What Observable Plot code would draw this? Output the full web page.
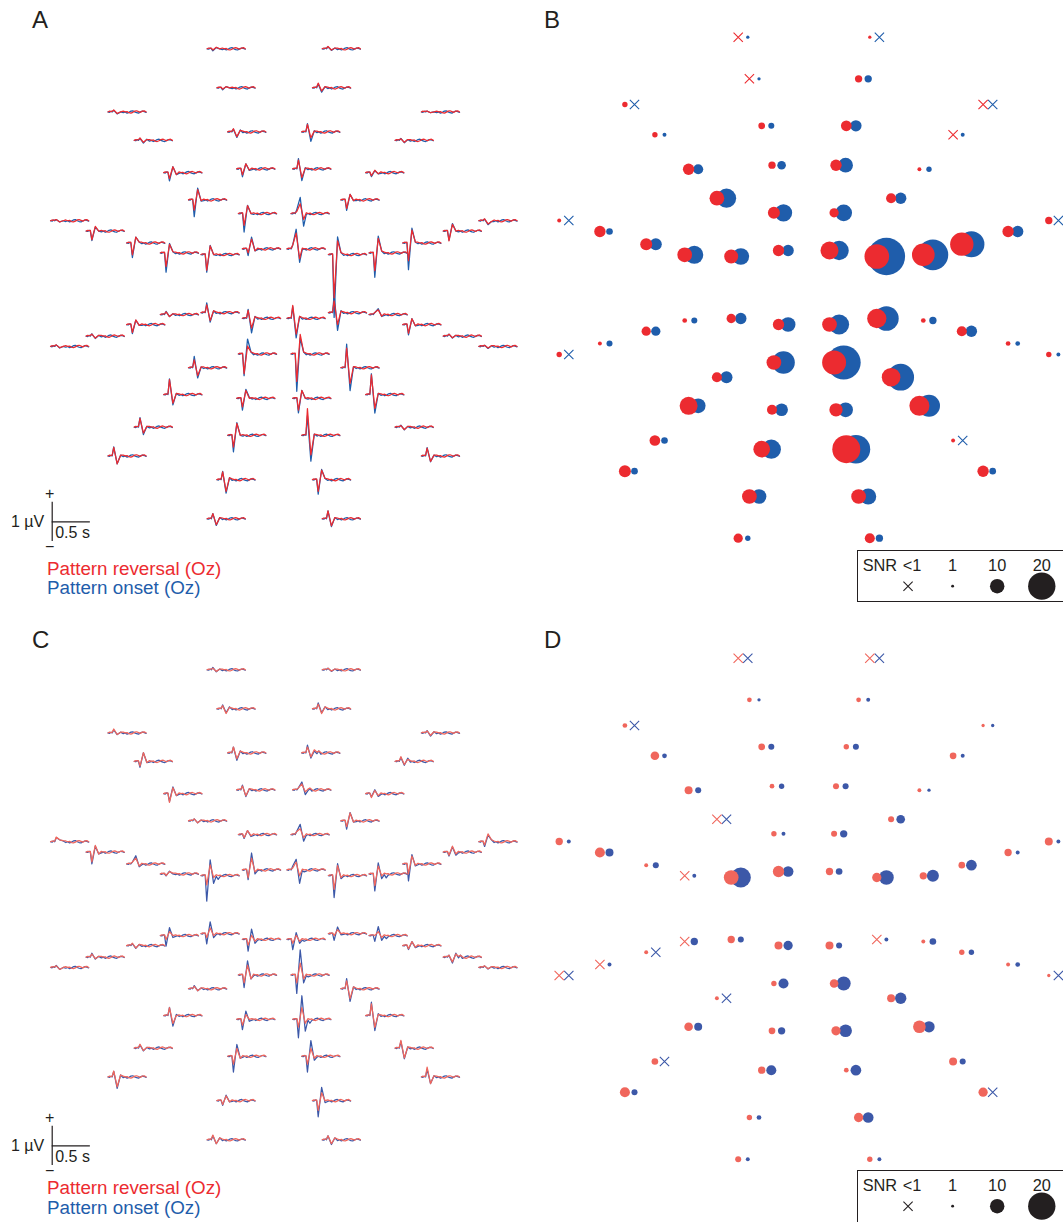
<!DOCTYPE html>
<html><head><meta charset="utf-8">
<script src="https://cdn.jsdelivr.net/npm/d3@7"></script>
<script src="https://cdn.jsdelivr.net/npm/@observablehq/plot@0.6"></script>
<style>
html,body{margin:0;padding:0;background:#fff;}
body{width:1063px;height:1222px;position:relative;overflow:hidden;font-family:"Liberation Sans",Arial,Helvetica,sans-serif;color:#231f20;}
.abs{position:absolute;}
.lbl{position:absolute;font-size:24px;line-height:1;}
.leg{position:absolute;font-size:18.8px;line-height:1;white-space:nowrap;}
.snrbox{position:absolute;border:1.3px solid #231f20;width:215px;height:52px;box-sizing:border-box;overflow:hidden;}
</style>
</head><body>
<div id="A" class="abs" style="left:0;top:0"></div>
<div id="B" class="abs" style="left:530px;top:0"></div>
<div id="C" class="abs" style="left:0;top:621px"></div>
<div id="D" class="abs" style="left:530px;top:621px"></div>
<div id="legB" class="snrbox" style="left:857px;top:550px"></div>
<div id="legD" class="snrbox" style="left:857px;top:1170px;height:60px"></div>
<div class="lbl" style="left:32px;top:8px">A</div>
<div class="lbl" style="left:544px;top:8px">B</div>
<div class="lbl" style="left:32px;top:628px">C</div>
<div class="lbl" style="left:544px;top:628px">D</div>
<div class="leg" id="revA" style="left:47px;top:560px"></div>
<div class="leg" id="onsA" style="left:47px;top:579px"></div>
<div class="leg" id="revCl" style="left:47px;top:1179px"></div>
<div class="leg" id="onsCl" style="left:47px;top:1199px"></div>
<script>
// ---------- electrode layout (montage coordinates) ----------
const ex = [-65.8,65.8,-54.6,54.6,-179.1,179.1,-149.1,-42.3,42.3,149.1,
  -115.4,-32,32,115.4,-87.1,87.1,-30.1,30.1,-244.8,244.8,
  -204.1,-157.8,-119.3,-72.8,-25.5,25.5,72.8,119.3,157.8,204.1,
  -244.8,-204.1,-157.8,-119.3,-72.8,-25.5,25.5,72.8,119.3,157.8,204.1,244.8,
  -30.1,30.1,-87.1,87.1,-115.4,-32,32,115.4,
  -149.1,-42.3,42.3,149.1,-179.1,179.1,-54.6,54.6,-65.8,65.8];
const ey = [250.5,250.5,208.9,208.9,183.2,183.2,152.9,161.9,161.9,152.9,
  118.5,122.5,122.5,118.5,89.5,89.5,74.9,74.9,67.2,67.2,
  56.2,43.5,32.9,31.2,37.2,37.2,31.2,32.9,43.5,56.2,
  -66.8,-55.8,-43.5,-32.8,-30.8,-36.8,-36.8,-30.8,-32.8,-43.5,-55.8,-66.8,
  -74.8,-74.8,-89.5,-89.5,-118.1,-122.1,-122.1,-118.1,
  -152.8,-161.5,-161.5,-152.8,-183.5,-183.5,-208.8,-208.8,-250.5,-250.5];

// ---------- SNR values (panel B: first data set, panel D: second) ----------
const snrRevB = [0.5,1.3,0.5,4.4,2.9,0.5,2.9,3.9,7.0,0.5, 7.5,4.4,7.5,1.8,10.1,6.5,8.0,5.9,1.8,4.4,
  7.5,8.0,10.1,9.5,7.5,12.6,17.7,16.2,16.7,7.5, 2.9,1.8,5.9,2.4,5.9,7.5,10.1,13.6,2.4,6.5,
  2.4,2.9,10.1,17.2,6.5,13.1,12.6,6.5,9.0,14.2, 7.0,11.6,20.3,1.8,8.0,7.5,10.1,10.1,5.9,6.5];
const snrOnsB = [1.3,0.5,1.3,4.4,0.5,0.5,1.8,3.4,7.5,1.8, 6.5,5.4,10.1,2.9,13.6,7.5,12.1,11.6,0.5,0.5,
  3.9,8.0,12.6,11.6,7.5,13.6,27.5,22.4,18.8,7.5, 0.5,3.4,5.9,3.4,7.5,10.1,14.2,17.7,4.4,7.5,
  2.4,1.8,16.2,24.9,8.0,19.3,10.1,8.5,10.1,15.7, 3.9,13.6,20.8,0.5,3.9,3.9,10.1,11.1,2.9,4.4];
const snrRevD = [0.5,0.5,2.4,2.4,2.4,1.3,5.4,3.9,2.9,3.9, 4.9,2.4,3.4,1.8,0.5,3.4,2.9,3.4,4.4,4.9,
  6.5,1.8,0.5,10.1,7.5,4.4,5.9,4.4,3.9,4.4, 0.5,0.5,1.8,0.5,4.4,4.9,4.9,0.5,1.8,2.9,
  1.8,1.3,2.9,5.4,1.8,4.9,5.4,3.9,5.9,8.5, 3.9,4.4,2.4,4.9,6.5,5.9,2.9,5.9,3.4,2.9];
const snrOnsD = [0.5,0.5,1.3,1.8,0.5,1.3,2.4,3.4,3.4,1.8, 3.4,2.9,3.4,1.3,0.5,5.4,1.8,4.4,1.8,1.8,
  4.9,3.4,1.8,14.2,7.0,3.9,10.1,8.0,7.0,1.8, 0.5,1.8,0.5,4.4,3.4,5.9,3.4,1.8,3.9,2.9,
  2.4,0.5,6.5,9.5,0.5,7.5,4.9,4.4,8.5,7.5, 0.5,6.5,7.0,3.4,3.4,0.5,2.4,7.0,1.8,1.8];

// ---------- waveforms: sample times (s) and values (µV) ----------
const times = [0,0.02,0.04,0.055,0.075,0.12,0.165,0.2,0.225,0.25,0.275,0.3,0.325,0.35,0.375,0.4,0.425,0.45,0.475,0.5];
const peakTimes = [0.075,0.12,0.165,0.225];
const wiggleRev = [0,0.02,0.01,0.02,0,0,0,0.02,0,0.01,-0.02,-0.03,-0.01,0.02,0.03,0.01,-0.01,0.02,0.03,0];
const wiggleOns = [0,-0.01,0.02,0,0,0,0,-0.02,0,-0.03,-0.01,0.02,0.03,0,-0.02,-0.03,0,0.02,0.01,-0.01];
// values at peakTimes for each electrode
const onsA = [[-0.05,0.03,0,0],[0.05,-0.04,0.02,0],[-0.05,0.03,0,0],[0.1,-0.11,0.03,0],[0.04,-0.05,0,0],[0.02,-0.02,0,0],[0.05,-0.07,0.03,0],[0.07,-0.14,0.05,0],[0.21,-0.24,0.03,0],[0.05,-0.06,0.02,0],
 [-0.21,0.15,-0.05,0],[-0.2,0.13,-0.04,0],[0.26,-0.3,0.03,0],[-0.1,0.05,-0.03,0],[-0.43,0.3,-0.03,0],[-0.27,0.14,-0.02,0],[-0.47,0.21,0,0],[0.1,0.41,-0.32,0],[0.03,-0.03,0,0],[0.04,-0.1,-0.02,0],
 [-0.24,0.1,0,0],[-0.37,0.15,0.02,0],[-0.49,0.24,0.03,0],[-0.45,0.23,0,0],[-0.17,0.3,-0.05,0],[0.1,0.5,-0.34,0],[-1.6,0.45,0.05,0],[-0.62,0.43,0.05,0],[-0.68,0.38,0.02,0],[-0.23,0.19,0,0],
 [0.04,-0.04,0,0],[0.06,-0.06,0.02,0],[-0.23,0.11,-0.02,0],[0.08,-0.05,0.02,0],[0.25,-0.24,0.05,0],[0.23,-0.37,0.05,0],[0.3,-0.5,0.05,0],[0.45,-0.45,0.05,0],[0.05,0.15,-0.05,0],[-0.26,0.15,-0.03,0],
 [0.05,-0.05,0.02,0],[0.03,-0.05,0.02,0],[-0.55,0.38,0.05,0],[-0.95,0.4,0.05,0],[0.29,-0.26,0.02,0],[0.6,-0.58,0.03,0],[0.4,-0.26,0.03,0],[-0.3,0.23,0.03,0],[-0.37,0.2,0,0],[0.53,-0.47,0.03,0],
 [0.24,-0.19,0.02,0],[-0.42,0.32,0,0],[0.5,-0.66,0.03,0],[0.05,-0.07,0.02,0],[0.23,-0.2,0.02,0],[0.21,-0.15,0.02,0],[0.21,-0.34,0.05,0],[-0.37,0.26,0.03,0],[0.13,-0.17,0.03,0],[0.2,-0.2,0.03,0]];
const revA = [[-0.03,0.04,0,0],[0.06,-0.03,0.02,0],[-0.03,0.03,0,0],[0.12,-0.08,0.03,0],[0.05,-0.04,0,0],[0.02,-0.02,0,0],[0.06,-0.05,0.02,0],[0.08,-0.12,0.04,0],[0.19,-0.15,0.02,0],[0.04,-0.05,0.02,0],
 [-0.15,0.15,-0.05,0],[-0.15,0.13,-0.03,0],[0.22,-0.22,0.02,0],[-0.08,0.06,-0.03,0],[-0.26,0.26,-0.02,0],[-0.22,0.14,-0.02,0],[-0.3,0.2,0,0],[0.05,0.25,-0.15,0],[0.03,-0.03,0,0],[0.05,-0.08,-0.02,0],
 [-0.22,0.12,0,0],[-0.3,0.15,0.02,0],[-0.35,0.22,0.03,0],[-0.4,0.22,0,0],[-0.1,0.25,-0.05,0],[0.1,0.4,-0.25,0],[-1.1,0.35,0.05,0],[-0.45,0.37,0.05,0],[-0.45,0.33,0.02,0],[-0.25,0.17,0,0],
 [0.04,-0.03,0,0],[0.05,-0.05,0.02,0],[-0.2,0.12,-0.02,0],[0.07,-0.05,0.02,0],[0.2,-0.2,0.05,0],[0.2,-0.25,0.04,0],[0.33,-0.4,0.05,0],[0.3,-0.3,0.04,0],[0.05,0.12,-0.04,0],[-0.22,0.15,-0.03,0],
 [0.05,-0.04,0.02,0],[0.03,-0.04,0.02,0],[-0.5,0.2,0.05,0],[-0.7,0.5,0.05,0],[0.2,-0.2,0.02,0],[0.5,-0.4,0.03,0],[0.38,-0.22,0.03,0],[-0.22,0.2,0,0],[-0.3,0.2,0,0],[0.5,-0.35,0.03,0],
 [0.22,-0.15,0.02,0],[-0.3,0.3,0,0],[0.68,-0.5,0.03,0],[0.04,-0.06,0.02,0],[0.22,-0.2,0.02,0],[0.2,-0.14,0.02,0],[0.2,-0.3,0.05,0],[-0.3,0.24,0.03,0],[0.13,-0.15,0.03,0],[0.2,-0.18,0.03,0]];
const onsC = [[0.06,-0.05,0.02,0],[0.04,-0.04,0.02,0],[0.1,-0.1,0.05,0],[0.15,-0.1,0.05,0],[0.08,-0.04,0.02,0],[0.06,-0.08,0.03,0],[-0.15,0.22,-0.03,0],[0.15,-0.19,0.05,0],[0.2,-0.13,0.05,0.05],[0.1,-0.1,0.08,0],
 [-0.2,0.17,-0.05,0],[0.12,-0.17,0.03,0],[0.05,0.2,-0.12,0.03],[-0.08,0.1,-0.07,0],[0.05,-0.05,0.02,0],[-0.21,0.21,-0.03,0],[-0.1,0.1,-0.05,0],[0.08,0.26,-0.17,0],[0.1,0.05,0.02,0],[-0.12,0.17,0.05,0],
 [-0.3,0.15,-0.05,0],[0.05,0.21,-0.07,0],[-0.05,0.07,0,0],[-0.65,0.4,-0.2,-0.1],[-0.25,0.43,-0.1,0],[0.1,0.27,-0.34,-0.05],[-0.56,0.3,-0.08,0],[-0.43,0.28,-0.12,-0.1],[-0.43,0.24,-0.05,0],[-0.1,0.13,-0.08,0],
 [0.05,-0.05,0,0],[0.1,-0.05,0.02,0],[0.05,-0.07,0.03,0],[-0.27,0.2,-0.05,0],[-0.26,0.3,-0.1,0],[-0.3,0.26,-0.1,0],[-0.26,0.17,-0.1,-0.05],[-0.17,0.17,-0.03,0],[-0.15,0.23,-0.12,-0.08],[-0.1,0.1,-0.05,0],
 [0.05,-0.15,0.1,0.05],[0.04,-0.04,0.02,0],[-0.32,0.36,-0.1,0],[-0.47,0.64,-0.2,-0.05],[0.08,-0.05,0.02,0],[0.26,-0.32,0.05,0],[0.21,-0.27,0.03,0],[-0.26,0.21,-0.05,0],[-0.47,0.6,-0.3,-0.1],[0.34,-0.38,0.05,0],
 [0.08,-0.07,0.02,0],[-0.4,0.3,-0.05,0],[-0.4,0.4,-0.1,0],[0.17,-0.27,0.03,0],[0.14,-0.29,0.05,0],[0.2,-0.17,0.03,0],[-0.12,0.14,-0.03,0],[-0.41,0.34,-0.05,0],[0.1,-0.1,0.05,0],[0.1,-0.12,0.05,0]];
const revC = [[0.04,-0.04,0.02,0],[0.04,-0.03,0.02,0],[0.08,-0.12,0.04,0],[0.12,-0.12,0.05,0],[0.1,-0.04,0.02,0],[0.05,-0.06,0.03,0],[-0.12,0.22,-0.03,0],[0.15,-0.15,0.05,0],[0.15,-0.1,0.08,0.05],[0.12,-0.08,0.05,0],
 [-0.22,0.15,-0.05,0],[0.1,-0.15,0.03,0],[0.05,0.15,-0.05,0.05],[-0.1,0.08,-0.05,0],[0.05,-0.05,0.02,0],[-0.15,0.2,-0.03,0],[-0.08,0.1,-0.03,0],[0.08,0.15,-0.08,0],[0.12,0.05,0.03,0],[-0.08,0.2,0.05,0],
 [-0.25,0.17,-0.05,0],[0.05,0.15,-0.05,0],[-0.04,0.06,0.02,0],[-0.24,0.27,-0.05,0],[-0.2,0.3,-0.05,0],[0.05,0.2,-0.15,0],[-0.35,0.25,-0.05,0],[-0.3,0.2,-0.05,0],[-0.25,0.2,-0.03,0],[-0.08,0.15,-0.05,0],
 [0.04,-0.05,0,0],[0.08,-0.04,0.02,0],[0.06,-0.06,0.03,0],[-0.1,0.1,0,0],[-0.1,0.15,-0.05,0],[-0.15,0.1,-0.05,0],[-0.1,0.1,-0.05,0],[-0.05,0.1,0,0],[0,0.1,-0.05,0],[-0.08,0.1,-0.04,0],
 [0.05,-0.12,0.08,0.05],[0.04,-0.03,0.02,0],[-0.2,0.25,-0.1,0],[-0.2,0.3,-0.1,0],[0.06,-0.05,0.02,0],[0.2,-0.25,0.05,0],[0.2,-0.2,0,0],[-0.15,0.12,0,0],[-0.2,0.3,-0.1,0],[0.3,-0.3,0.03,0],
 [0.1,-0.06,0.02,0],[-0.2,0.2,-0.05,0],[-0.2,0.2,-0.05,0],[0.2,-0.25,0.03,0],[0.15,-0.25,0.05,0],[0.25,-0.17,0.03,0],[-0.1,0.12,-0.03,0],[-0.25,0.2,0,0],[0.12,-0.1,0.05,0],[0.1,-0.1,0.05,0]];

// ---------- legend / scale-bar text ----------
const condLabels = ["Pattern reversal (Oz)", "Pattern onset (Oz)"];
const snrLegendTitle = "SNR";
const snrLegendLabels = ["<1","1","10","20"];
const snrLegendValues = [0.5,1,10,20];
const scaleBar = {uv: 1, sec: 0.5, uvLabel: "1 µV", secLabel: "0.5 s"};

// ---------- colours ----------
const colTop = {rev: "#ec2b30", ons: "#1f5dab"};
const colBot = {rev: "#f0665c", ons: "#3c58a8"};
const ink = "#231f20";
const font = "'Liberation Sans', Arial, Helvetica, sans-serif";

// ---------- waveform panel ----------
const SEC = 87.2;   // montage units per second
const UV = 41.9;    // montage units per µV
function traceRows(vals, wiggle) {
  const rows = [];
  vals.forEach((v, i) => {
    times.forEach((t, k) => {
      const pi = peakTimes.indexOf(t);
      const uv = pi >= 0 ? v[pi] : wiggle[k];
      rows.push({e: i, x: ex[i] + (t - 0.25) * SEC, y: ey[i] + uv * UV});
    });
  });
  return rows;
}
function wavePanel(rev, ons, col, sbShift) {
  const sbX = -264.7, sbY = -253.7 + sbShift;
  const h = scaleBar.uv * UV / 2;
  return Plot.plot({
    width: 530, height: 621, margin: 0,
    style: {fontFamily: font, background: "transparent", overflow: "visible"},
    x: {domain: [-323.8, 282], axis: null},
    y: {domain: [-360, 302], axis: null},
    marks: [
      Plot.line(traceRows(ons, wiggleOns), {x: "x", y: "y", z: "e", stroke: col.ons, strokeWidth: 1.25, strokeLinejoin: "round"}),
      Plot.line(traceRows(rev, wiggleRev), {x: "x", y: "y", z: "e", stroke: col.rev, strokeWidth: 1.25, strokeLinejoin: "round"}),
      Plot.ruleX([sbX], {y1: sbY - h, y2: sbY + h, stroke: ink, strokeWidth: 1.2}),
      Plot.ruleY([sbY], {x1: sbX, x2: sbX + scaleBar.sec * SEC, stroke: ink, strokeWidth: 1.2}),
      Plot.text([scaleBar.uvLabel], {x: sbX, y: sbY, text: d => d, textAnchor: "end", dx: -8, fontSize: 16, fill: ink}),
      Plot.text([scaleBar.secLabel], {x: sbX, y: sbY, text: d => d, textAnchor: "start", dx: 3, dy: 11, fontSize: 16, fill: ink}),
      Plot.text(["+"], {x: sbX, y: sbY + h, text: d => d, dx: -2.5, dy: -8, fontSize: 16, fill: ink}),
      Plot.text(["\u2212"], {x: sbX, y: sbY - h, text: d => d, dx: -2.5, dy: 5, fontSize: 16, fill: ink})
    ]
  });
}

// ---------- SNR panel ----------
const rScale = {type: "linear", domain: [0, 20], range: [0.8, 13.8]};
const OFF = 4.8;
function snrPanel(rev, ons, col) {
  const rows = ex.map((x, i) => ({x, y: ey[i], rev: rev[i], ons: ons[i]}));
  return Plot.plot({
    width: 533, height: 621, margin: 0,
    style: {fontFamily: font, background: "transparent"},
    x: {domain: [-278.3, 254.7], axis: null},
    y: {domain: [-333.8, 287.2], axis: null},
    r: rScale,
    marks: [
      Plot.dot(rows.filter(d => d.ons >= 1), {x: "x", y: "y", r: "ons", fill: col.ons, dx: OFF}),
      Plot.dot(rows.filter(d => d.ons < 1), {x: "x", y: "y", r: 4.3, symbol: "times", stroke: col.ons, strokeWidth: 1.1, dx: OFF}),
      Plot.dot(rows.filter(d => d.rev >= 1), {x: "x", y: "y", r: "rev", fill: col.rev, dx: -OFF}),
      Plot.dot(rows.filter(d => d.rev < 1), {x: "x", y: "y", r: 4.3, symbol: "times", stroke: col.rev, strokeWidth: 1.1, dx: -OFF})
    ]
  });
}
function snrLegend() {
  const rows = snrLegendLabels.map((l, i) => ({label: l, snr: snrLegendValues[i]}));
  return Plot.plot({
    width: 215, height: 60, margin: 0,
    style: {fontFamily: font, background: "transparent"},
    x: {type: "point", domain: snrLegendLabels, range: [49.7, 184.7], padding: 0, axis: null},
    y: {type: "point", domain: ["label", "mark"], range: [14.4, 35.4], padding: 0, axis: null},
    r: rScale,
    marks: [
      Plot.text([snrLegendTitle], {x: () => snrLegendLabels[0], y: () => "label", text: d => d, textAnchor: "end", dx: -11, fontSize: 16.5, fill: ink}),
      Plot.text(rows.filter(d => d.snr < 1), {x: "label", y: () => "label", text: "label", dx: 4, fontSize: 16.5, fill: ink}),
      Plot.text(rows.filter(d => d.snr >= 1), {x: "label", y: () => "label", text: "label", fontSize: 16.5, fill: ink}),
      Plot.dot(rows.filter(d => d.snr >= 1), {x: "label", y: () => "mark", r: "snr", fill: ink}),
      Plot.dot(rows.filter(d => d.snr < 1), {x: "label", y: () => "mark", r: 4.3, symbol: "times", stroke: ink, strokeWidth: 1.1})
    ]
  });
}

document.getElementById("A").append(wavePanel(revA, onsA, colTop, 0));
document.getElementById("B").append(snrPanel(snrRevB, snrOnsB, colTop));
document.getElementById("C").append(wavePanel(revC, onsC, colBot, -3.2));
document.getElementById("D").append(snrPanel(snrRevD, snrOnsD, colBot));
document.getElementById("legB").append(snrLegend());
document.getElementById("legD").append(snrLegend());
for (const [id, i, c] of [["revA",0,colTop.rev],["onsA",1,colTop.ons],["revCl",0,colTop.rev],["onsCl",1,colTop.ons]]) {
  const el = document.getElementById(id); el.textContent = condLabels[i]; el.style.color = c;
}
</script>
</body></html>
